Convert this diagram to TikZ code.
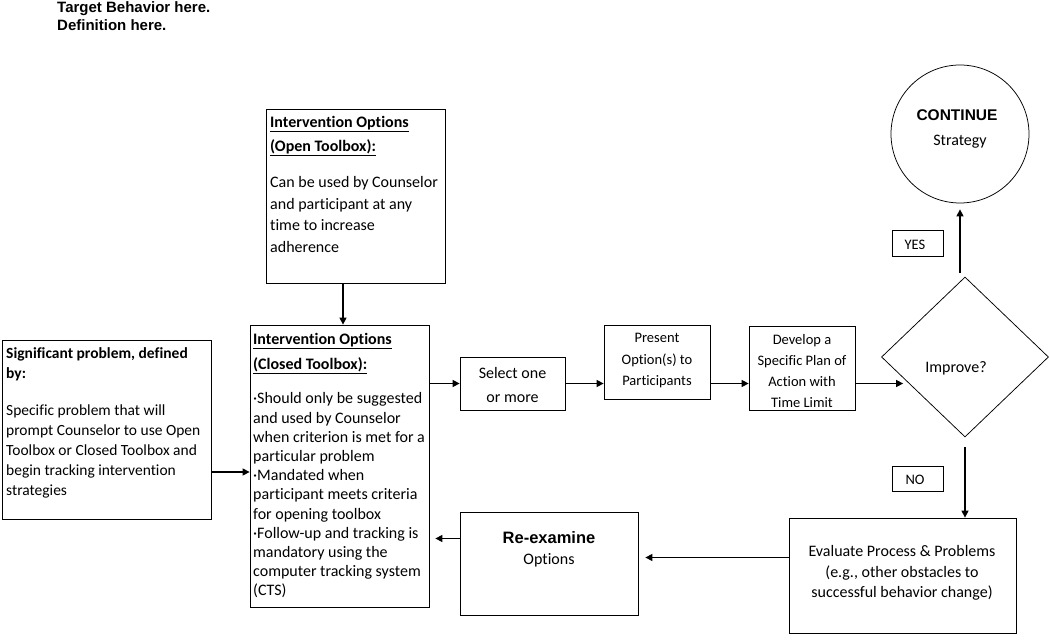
\documentclass[tikz,border=0pt]{standalone}
\usepackage{fontspec}
\setmainfont{Carlito}[Ligatures={NoCommon}]
\newfontfamily\arialfont{Liberation Sans}
\usetikzlibrary{arrows.meta,shapes.geometric,positioning}

\begin{document}
\begin{tikzpicture}[x=1pt, y=-1pt, >={Triangle[length=7pt,width=7pt]},
    box/.style={draw, line width=0.75pt, inner sep=0pt, rectangle},
    flow/.style={->, line width=1.1pt},
    bigtext/.style={anchor=north west, inner sep=0pt, align=left},
    midtext/.style={inner sep=0pt, align=center}]

    \useasboundingbox (0,0) rectangle (1050,644);

    % --- Titulo ---
    \node[bigtext, font=\arialfont\bfseries\fontsize{15}{18}\selectfont] (title) at (57,1)
        {Target Behavior here.\\Definition here.};

    % --- Cajas ---
    \node[box, minimum width=179pt, minimum height=174pt] (open) at (355.5,196) {};
    \node[box, minimum width=179pt, minimum height=282pt] (closed) at (339.5,466) {};
    \node[box, minimum width=209pt, minimum height=179pt] (sig) at (106.5,429.5) {};
    \node[box, minimum width=105pt, minimum height=53pt] (select) at (512.5,383.5) {};
    \node[box, minimum width=106pt, minimum height=74pt] (present) at (657,362) {};
    \node[box, minimum width=106pt, minimum height=84pt] (develop) at (802,368) {};
    \node[draw, diamond, line width=0.75pt, inner sep=0pt, minimum width=167pt, minimum height=160pt] (improve) at (965,357) {};
    \node[draw, circle, line width=0.75pt, inner sep=0pt, minimum size=138pt] (cont) at (960,134) {};
    \node[box, minimum width=51pt, minimum height=26pt] (yes) at (917.5,243) {};
    \node[box, minimum width=51pt, minimum height=25pt] (no) at (917.5,478.5) {};
    \node[box, minimum width=227pt, minimum height=115pt] (eval) at (902.5,575.5) {};
    \node[box, minimum width=178pt, minimum height=103pt] (reexam) at (549,563.5) {};

    % --- Textos ---
    \node[bigtext, font=\fontsize{16}{21.5}\selectfont] (opentext) at (270,116)
        {\textbf{\underline{Intervention Options}}\\[2.5pt]
         \textbf{\underline{(Open Toolbox):}}\\[15pt]
         Can be used by Counselor\\and participant at any\\time to increase\\adherence};
    \node[bigtext, font=\fontsize{16}{19.2}\selectfont] (closedtext) at (253,333)
        {\textbf{\underline{Intervention Options}}\\[6pt]
         \textbf{\underline{(Closed Toolbox):}}\\[15pt]
         ·Should only be suggested\\and used by Counselor\\when criterion is met for a\\particular problem\\
         ·Mandated when\\participant meets criteria\\for opening toolbox\\
         ·Follow-up and tracking is\\mandatory using the\\computer tracking system\\(CTS)};
    \node[bigtext, font=\fontsize{15.5}{20}\selectfont] (sigtext) at (6,347)
        {\textbf{Significant problem, defined}\\\textbf{by:}\\[17pt]
         Specific problem that will\\prompt Counselor to use Open\\Toolbox or Closed Toolbox and\\begin tracking intervention\\strategies};
    \node[midtext, font=\fontsize{16}{24}\selectfont] (selecttext) at (512.5,385) {Select one\\or more};
    \node[midtext, font=\fontsize{14.5}{21.5}\selectfont] (presenttext) at (657,361) {Present\\Option(s) to\\Participants};
    \node[midtext, font=\fontsize{14.5}{21}\selectfont] (developtext) at (802,371) {Develop a\\Specific Plan of\\Action with\\Time Limit};
    \node[midtext, font=\fontsize{16}{20}\selectfont] (improvetext) at (956,368) {Improve?};
    \node[midtext, font=\arialfont\bfseries\fontsize{15.5}{18}\selectfont] (conttext) at (957,115) {CONTINUE};
    \node[midtext, font=\fontsize{16}{20}\selectfont] (strattext) at (960,142) {Strategy};
    \node[midtext, font=\fontsize{14.5}{18}\selectfont] (yestext) at (915,245) {YES};
    \node[midtext, font=\fontsize{14.5}{18}\selectfont] (notext) at (915,480) {NO};
    \node[midtext, font=\fontsize{16}{20.5}\selectfont] (evaltext) at (902,573)
        {Evaluate Process \& Problems\\(e.g., other obstacles to\\successful behavior change)};
    \node[midtext, font=\arialfont\bfseries\fontsize{16.5}{20}\selectfont] (reexamtext) at (549,538) {Re-examine};
    \node[midtext, font=\fontsize{16}{20}\selectfont] (optionstext) at (549,560) {Options};

    % --- Flechas ---
    \draw[flow] ([xshift=3.5pt]closed.north |- open.south) -- ([xshift=3.5pt]closed.north);
    \draw[flow] ([yshift=-6pt]closed.west -| sig.east) -- ([yshift=-6pt]closed.west);
    \draw[flow] (closed.east |- select.west) -- (select.west);
    \draw[flow] (select.east) -- (present.west |- select.east);
    \draw[flow] (present.east |- select.east) -- (develop.west |- select.east);
    \draw[flow] (develop.east |- select.east) -- ([xshift=22pt]improve.west |- select.east);
    \draw[flow] ([yshift=4pt]cont.south |- improve.north) -- ([yshift=-6pt]cont.south);
    \draw[flow] ([yshift=-10pt]improve.south) -- (eval.north -| improve.south);
    \draw[flow] ([yshift=6pt]eval.west |- reexam.east) -- ([xshift=7pt,yshift=6pt]reexam.east);
    \draw[flow] ([yshift=25pt]reexam.west) -- ([xshift=6pt,yshift=25pt]closed.east |- reexam.west);

\end{tikzpicture}
\end{document}
